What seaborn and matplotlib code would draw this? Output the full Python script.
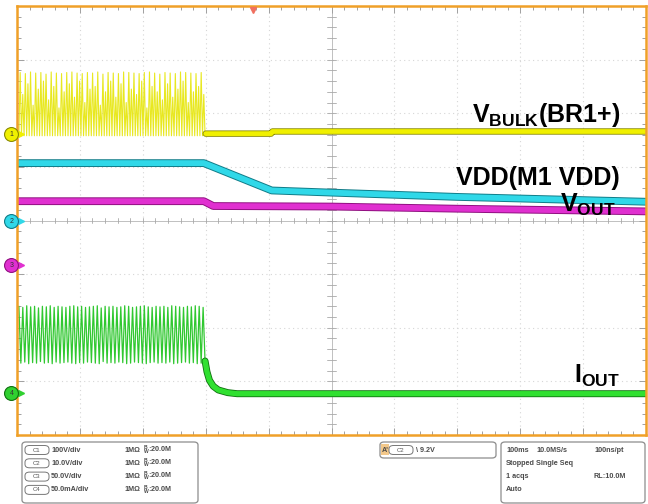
import numpy as np
import pandas as pd
import seaborn as sns
import matplotlib.pyplot as plt
from matplotlib import font_manager as fm
from matplotlib.patches import FancyBboxPatch

# C1 - VBULK (BR1+)
c1_base = 1.58
c1_peak = [2.76, 2.74, 2.77, 2.75, 2.76, 2.73, 2.77, 2.75, 2.74, 2.76, 2.77, 2.75,
           2.74, 2.76, 2.75, 2.77, 2.73, 2.76, 2.75, 2.74, 2.77, 2.76, 2.75, 2.74,
           2.76, 2.77, 2.75, 2.73, 2.76, 2.75, 2.74, 2.77, 2.76, 2.75, 2.74, 2.76]
c1_mid = [2.35, 2.55, 2.15, 2.45, 2.60, 2.25, 2.50, 2.10, 2.40, 2.55, 2.30, 2.60,
          2.20, 2.45, 2.50, 2.15, 2.40, 2.60, 2.30, 2.55, 2.20, 2.45, 2.35, 2.60,
          2.10, 2.50, 2.40, 2.25, 2.55, 2.30, 2.45, 2.60, 2.20, 2.40, 2.50, 2.35]
c1_after_t = [3.00, 4.04, 4.06, 10.0]
c1_after_v = [1.62, 1.62, 1.66, 1.66]

# C2 - VDD (M1 VDD)
c2_t = [0.03, 2.97, 4.05, 5.00, 7.00, 10.0]
c2_v = [1.07, 1.07, 0.56, 0.52, 0.44, 0.35]

# C3 - VOUT
c3_t = [0.03, 2.97, 3.12, 5.00, 7.00, 10.0]
c3_v = [0.36, 0.36, 0.27, 0.26, 0.22, 0.17]

# C4 - IOUT
c4_hi = [-1.60, -1.62, -1.59, -1.61, -1.60, -1.63, -1.60, -1.61, -1.59, -1.62, -1.60, -1.61,
         -1.62, -1.60, -1.59, -1.61, -1.60, -1.62, -1.61, -1.60, -1.59, -1.63, -1.60, -1.61,
         -1.60, -1.62, -1.61, -1.59, -1.60, -1.62, -1.61, -1.60, -1.59, -1.61, -1.62, -1.60,
         -1.61, -1.60, -1.62, -1.59, -1.60, -1.61, -1.62, -1.60, -1.61, -1.59, -1.60, -1.62]
c4_lo = [-2.66, -2.64, -2.67, -2.65, -2.66, -2.63, -2.66, -2.65, -2.67, -2.64, -2.66, -2.65,
         -2.64, -2.66, -2.67, -2.65, -2.66, -2.64, -2.65, -2.66, -2.67, -2.63, -2.66, -2.65,
         -2.66, -2.64, -2.65, -2.67, -2.66, -2.64, -2.65, -2.66, -2.67, -2.65, -2.64, -2.66,
         -2.65, -2.66, -2.64, -2.67, -2.66, -2.65, -2.64, -2.66, -2.65, -2.67, -2.66, -2.64]
c4_after_t = [2.99, 3.02, 3.06, 3.12, 3.20, 3.35, 3.50, 10.0]
c4_after_v = [-2.62, -2.82, -2.98, -3.09, -3.16, -3.21, -3.23, -3.23]

# marcadores de tierra de cada canal
ch_names = ["1", "2", "3", "4"]
ch_level = [1.61, -0.01, -0.83, -3.22]
ch_color = ["#f0f000", "#30d8e8", "#e030d0", "#30d030"]
ch_dark = ["#8a8a00", "#107c88", "#901080", "#107010"]

# textos del panel inferior
chan_rows = [("C1", "100V/div"), ("C2", "10.0V/div"), ("C3", "50.0V/div"), ("C4", "50.0mA/div")]
acq_rows = [["100ms", "10.0MS/s", "100ns/pt"], ["Stopped", "Single Seq", ""],
            ["1 acqs", "", "RL:10.0M"], ["Auto", "", ""]]

sns.set_style("white")
try:
    fm.findfont("Liberation Sans Narrow", fallback_to_default=False)
    fuente = "Liberation Sans Narrow"
except Exception:
    fuente = "Liberation Sans"
plt.rcParams["font.family"] = [fuente, "DejaVu Sans"]
plt.rcParams["text.color"] = "black"
plt.rcParams["mathtext.fontset"] = "custom"
plt.rcParams["mathtext.rm"] = fuente + ":bold"
plt.rcParams["mathtext.bf"] = fuente + ":bold"
plt.rcParams["mathtext.it"] = fuente + ":bold"

# armo las trazas con rafaga
c1_y = []
for p, m in zip(c1_peak, c1_mid):
    c1_y += [c1_base, p, c1_base, m]
c1_y.append(c1_base)
df_c1 = pd.DataFrame({"t": np.linspace(0.03, 2.99, len(c1_y)), "v": c1_y})

c4_y = []
for h, l in zip(c4_hi, c4_lo):
    c4_y += [h, l]
df_c4 = pd.DataFrame({"t": np.linspace(0.03, 2.99, len(c4_y)), "v": c4_y})

fig = plt.figure(figsize=(6.48, 5.04), dpi=100)
ax = fig.add_axes([17 / 648, 69 / 504, 629 / 648, 429 / 504])
ax.set_xlim(0, 10)
ax.set_ylim(-4, 4)

# reticula
for gx in range(1, 10):
    if gx != 5:
        ax.axvline(gx, color="#d6d6d6", lw=0.8, ls=(0, (1, 3)), zorder=0)
for gy in range(-3, 4):
    if gy != 0:
        ax.axhline(gy, color="#d6d6d6", lw=0.8, ls=(0, (1, 3)), zorder=0)
ax.axvline(5, color="#b5b5b5", lw=0.6, zorder=0)
ax.axhline(0, color="#b5b5b5", lw=0.6, zorder=0)
for k in np.arange(0.2, 10, 0.2):
    ax.plot([k, k], [-0.05, 0.05], color="#a8a8a8", lw=0.6, zorder=0)
for k in np.arange(-3.8, 4, 0.2):
    ax.plot([4.93, 5.07], [k, k], color="#a8a8a8", lw=0.6, zorder=0)

ax.set_xticks(range(0, 11))
ax.set_xticks(np.arange(0, 10.01, 0.2), minor=True)
ax.set_yticks(range(-4, 5))
ax.set_yticks(np.arange(-4, 4.01, 0.2), minor=True)
ax.tick_params(which="both", direction="in", top=True, bottom=True, left=True, right=True,
               labelbottom=False, labelleft=False, color="#a0a0a0", width=0.7)
ax.tick_params(which="major", length=5)
ax.tick_params(which="minor", length=3)
for s in ax.spines.values():
    s.set_color("#f0a028")
    s.set_linewidth(1.8)

# trazas
sns.lineplot(data=df_c1, x="t", y="v", ax=ax, color="#e8e820", lw=0.8, estimator=None, sort=False)
sns.lineplot(x=c1_after_t, y=c1_after_v, ax=ax, color="#8a8a00", lw=4.6, estimator=None)
sns.lineplot(x=c1_after_t, y=c1_after_v, ax=ax, color="#f0f000", lw=3.4, estimator=None)

sns.lineplot(x=c2_t, y=c2_v, ax=ax, color="#107c88", lw=5.6, estimator=None)
sns.lineplot(x=c2_t, y=c2_v, ax=ax, color="#30d8e8", lw=4.2, estimator=None)

sns.lineplot(x=c3_t, y=c3_v, ax=ax, color="#901080", lw=5.6, estimator=None)
sns.lineplot(x=c3_t, y=c3_v, ax=ax, color="#e030d0", lw=4.2, estimator=None)

sns.lineplot(data=df_c4, x="t", y="v", ax=ax, color="#30c830", lw=0.9, estimator=None, sort=False)
sns.lineplot(x=c4_after_t, y=c4_after_v, ax=ax, color="#107010", lw=5.0, estimator=None)
sns.lineplot(x=c4_after_t, y=c4_after_v, ax=ax, color="#30e030", lw=3.8, estimator=None)
ax.set_xlabel("")
ax.set_ylabel("")

# marcadores de canal a la izquierda
for name, lev, col, dk in zip(ch_names, ch_level, ch_color, ch_dark):
    ax.plot(0.06, lev, marker=">", ms=4, color=col, clip_on=False, zorder=5)
    ax.plot(-0.09, lev, marker="o", ms=10, mfc=col, mec=dk, mew=0.8, clip_on=False, zorder=6)
    ax.text(-0.09, lev, name, fontsize=5, ha="center", va="center", color="#333333", zorder=7)
ax.plot(3.75, 3.93, marker="v", ms=5, color="#f07060", clip_on=False, zorder=5)

# etiquetas
ax.text(9.59, 1.84, r"$\mathrm{V_{BULK}(BR1{+})}$", fontsize=18, ha="right", va="baseline", color="black")
ax.text(9.59, 0.66, "VDD(M1 VDD)", fontsize=18, fontweight="bold", ha="right", va="baseline", color="black")
ax.text(9.51, 0.16, r"$\mathrm{V_{OUT}}$", fontsize=18, ha="right", va="baseline", color="black")
ax.text(9.59, -3.03, r"$\mathrm{I_{OUT}}$", fontsize=18, ha="right", va="baseline", color="black")

# panel inferior
def px(x, y):
    return x / 648, 1 - y / 504

def caja(x0, y0, x1, y1):
    a, b = px(x0, y1)
    fig.patches.append(FancyBboxPatch((a, b), (x1 - x0) / 648, (y1 - y0) / 504,
                                      boxstyle="round,pad=0,rounding_size=0.006",
                                      transform=fig.transFigure, fc="white", ec="#8c8c8c", lw=0.9))

def etiqueta(x, y, txt):
    a, b = px(x, y + 4.5)
    fig.patches.append(FancyBboxPatch((a, b), 24 / 648, 9 / 504,
                                      boxstyle="round,pad=0,rounding_size=0.007",
                                      transform=fig.transFigure, fc="white", ec="#777777", lw=0.7))
    fig.text(*px(x + 12, y), txt, fontsize=4.3, ha="center", va="center", color="#555555")

txt_kw = dict(fontsize=5.2, fontweight="bold", va="center", color="#4a4a4a", family="Liberation Sans")

caja(22, 442, 198, 503)
for i, (c, esc) in enumerate(chan_rows):
    yy = 450 + i * 13.3
    etiqueta(25, yy, c)
    fig.text(*px(51, yy), esc, **txt_kw)
    fig.text(*px(124, yy), "1MΩ", **txt_kw)
    fig.text(*px(143, yy), r"$^{B}_{W}$:20.0M", **txt_kw)

caja(380, 442, 496, 458)
a, b = px(381, 455)
fig.patches.append(FancyBboxPatch((a, b), 8 / 648, 11 / 504, boxstyle="square,pad=0",
                                  transform=fig.transFigure, fc="#f3c88a", ec="none"))
fig.text(*px(382, 450), "A'", **txt_kw)
etiqueta(389, 450, "C2")
fig.text(*px(416, 450), "\\ 9.2V", **txt_kw)

caja(501, 442, 645, 503)
col_x = [506, 536, 594]
for i, fila in enumerate(acq_rows):
    yy = 450 + i * 13.3
    for xx, t in zip(col_x, fila):
        if t:
            fig.text(*px(xx, yy), t, **txt_kw)

plt.savefig("out.png", dpi=100)
